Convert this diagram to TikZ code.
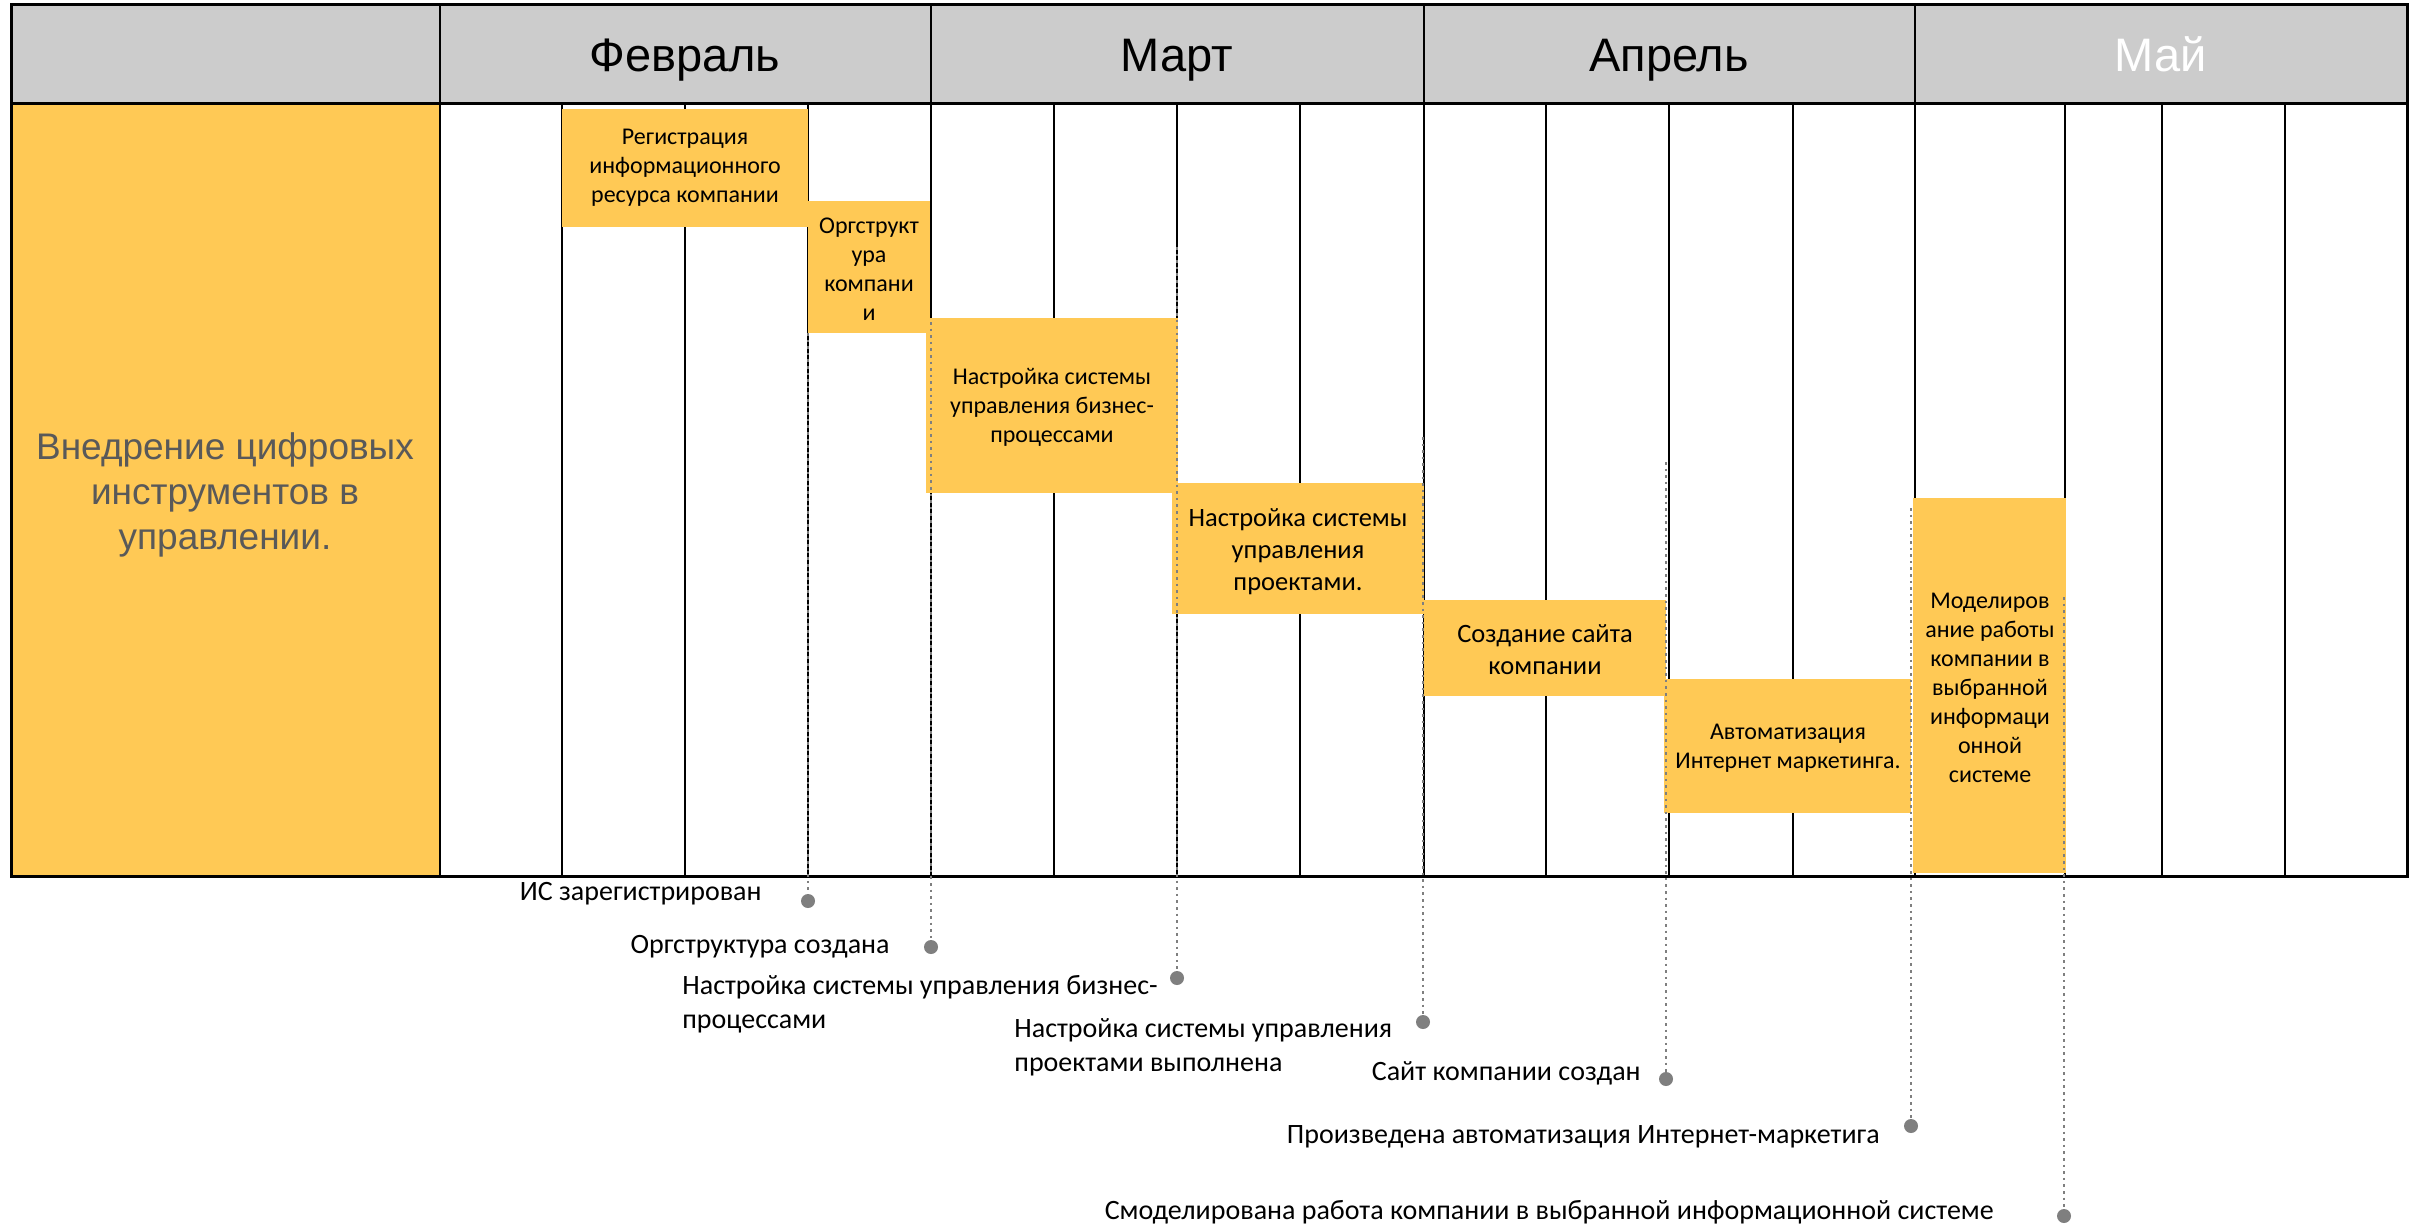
\documentclass[tikz,border=0pt]{standalone}
\usepackage{fontspec}
\setmainfont{Carlito}
\newfontfamily\arialf{Liberation Sans}
\definecolor{barc}{HTML}{FFC955}
\definecolor{hdrc}{HTML}{CCCCCC}
\definecolor{dotc}{HTML}{7F7F7F}
\definecolor{leftc}{HTML}{595959}
\begin{document}
\begin{tikzpicture}[x=0.5pt,y=-0.5pt,
  gridline/.style={line width=1pt,black},
  frameline/.style={line width=1.5pt,black},
  bar/.style={fill=barc},
  bartext/.style={align=center,inner sep=0pt,font=\fontsize{12}{14.5}\selectfont},
  bartextL/.style={align=center,inner sep=0pt,font=\fontsize{13.25}{16}\selectfont},
  month/.style={anchor=base,font=\arialf\fontsize{23.5}{28}\selectfont},
  mlabel/.style={inner sep=0pt,font=\fontsize{14}{17}\selectfont},
  mdot/.style={circle,fill=dotc,inner sep=0pt,minimum size=7pt},
  mline/.style={dotc,line width=1pt,dash pattern=on 1.3pt off 2pt}]
\useasboundingbox (0,0) rectangle (2418,1225);
\fill[white] (0,0) rectangle (2418,1225);
% header and left column
\fill[hdrc] (11,5) rectangle (2407,104);
\fill[barc] (11,104) rectangle (440,876);
\foreach \x in {562,685,808,1054,1177,1300,1546,1669,1793,2065,2162,2285}
  \draw[gridline] (\x,104) -- (\x,876);
\foreach \x in {440,931,1424,1915}
  \draw[gridline] (\x,5) -- (\x,876);
\draw[frameline] (11,5) rectangle (2407,876);
\draw[frameline] (11,104) -- (2407,104);
% bars
\fill[bar] (562,109) rectangle (808,227);
\fill[bar] (808,201) rectangle (930,333);
\fill[bar] (926,318) rectangle (1178,493);
\fill[bar] (1172,483) rectangle (1424,614);
\fill[bar] (1424,600) rectangle (1666,696);
\fill[bar] (1664,679) rectangle (1911,813);
\fill[bar] (1913,498) rectangle (2066,873);
% milestone dots
\node[mdot] (d1) at (808,901) {};
\node[mdot] (d2) at (931,947) {};
\node[mdot] (d3) at (1177,978) {};
\node[mdot] (d4) at (1423,1022) {};
\node[mdot] (d5) at (1666,1079) {};
\node[mdot] (d6) at (1911,1126) {};
\node[mdot] (d7) at (2064,1216) {};
\coordinate (s1) at (808,333);
\coordinate (s2) at (931,322);
\coordinate (s3) at (1177,247);
\coordinate (s4) at (1423,437);
\coordinate (s5) at (1666,462);
\coordinate (s6) at (1911,508);
\coordinate (s7) at (2064,597);
\foreach \i in {1,...,7} \draw[mline] (s\i) -- (d\i.center);
% bar texts
\node[bartext] (t1) at (685,168) {Регистрация\\информационного\\ресурса компании};
\node[bartext] (t2) at (869,269) {Оргструкт\\ура\\компани\\и};
\node[bartext] (t3) at (1052,407) {Настройка системы\\управления бизнес-\\процессами};
\node[bartextL] (t4) at (1298,552) {Настройка системы\\управления\\проектами.};
\node[bartextL] (t5) at (1545,650) {Создание сайта\\компании};
\node[bartext] (t6) at (1788,748) {Автоматизация\\Интернет маркетинга.};
\node[bartext] (t7) at (1990,688) {Моделиров\\ание работы\\компании в\\выбранной\\информаци\\онной\\системе};
% months
\node[month] (feb) at (685,72) {Февраль};
\node[month] (mar) at (1177,72) {Март};
\node[month] (apr) at (1669,72) {Апрель};
\node[month,text=white] (may) at (2161,72) {Май};
% left label
\node[align=center,inner sep=0pt,text=leftc,font=\arialf\fontsize{18.5}{22.5}\selectfont] (lbl) at (225,495) {Внедрение цифровых\\инструментов в\\управлении.};
% milestone labels
\node[mlabel,anchor=east] (l1) at (762,894) {ИС зарегистрирован};
\node[mlabel,anchor=east] (l2) at (890,947) {Оргструктура создана};
\node[mlabel,anchor=west,align=left] (l3) at (682,1004) {Настройка системы управления бизнес-\\процессами};
\node[mlabel,anchor=west,align=left] (l4) at (1014,1047) {Настройка системы управления\\проектами выполнена};
\node[mlabel,anchor=east] (l5) at (1641,1073) {Сайт компании создан};
\node[mlabel,anchor=east] (l6) at (1880,1137) {Произведена автоматизация Интернет-маркетига};
\node[mlabel,anchor=east] (l7) at (1994,1212) {Смоделирована работа компании в выбранной информационной системе};
\end{tikzpicture}
\end{document}
